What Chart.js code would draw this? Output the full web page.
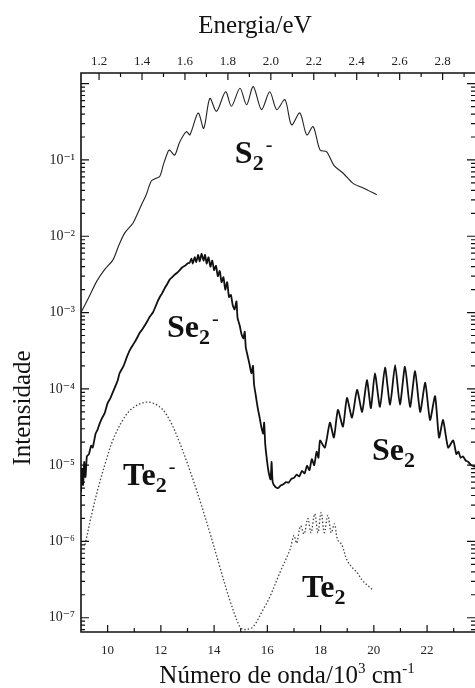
<!DOCTYPE html>
<html><head><meta charset="utf-8">
<script src="https://cdn.jsdelivr.net/npm/chart.js@4/dist/chart.umd.min.js"></script>
<style>html,body{margin:0;padding:0;background:#fff}#wrap{width:475px;height:688px}</style>
</head><body><div id="wrap"><canvas id="c" width="475" height="688"></canvas></div>
<script>
// ---- data (x: wavenumber / 10^3 cm-1, y: intensity) ----
const s2Points = [
[9.0,1.0e-3],[9.3,1.6e-3],[9.6,2.6e-3],[9.9,3.7e-3],[10.2,4.9e-3],[10.4,7.3e-3],[10.64,1.1e-2],[10.95,1.48e-2],[11.1,1.9e-2],[11.27,2.57e-2],[11.45,3.5e-2],[11.64,5.3e-2],[11.8,5.7e-2],[11.96,6.1e-2],[12.1,8.8e-2],[12.27,0.129],[12.33,0.135],[12.52,0.116],[12.7,0.17],[12.96,0.235],[13.09,0.213],[13.4,0.413],[13.61,0.26],[13.84,0.643],[14.09,0.434],[14.43,0.785],[14.65,0.505],[14.97,0.87],[15.22,0.53],[15.47,0.915],[15.78,0.457],[16.09,0.785],[16.35,0.457],[16.66,0.617],[16.91,0.288],[17.22,0.413],[17.48,0.213],[17.72,0.274],[17.98,0.135],[18.23,0.128],[18.5,0.085],[18.85,0.067],[19.23,0.049],[19.6,0.043],[20.11,0.035]
];
const se2Points = [
[9.0,4.5e-6],[9.04,9e-6],[9.08,5.5e-6],[9.12,1.1e-5],[9.17,7e-6],[9.22,1.3e-5],[9.3,1.4e-5],[9.38,1.8e-5],[9.44,1.7e-5],[9.55,2.6e-5],[9.62,2.9e-5],[9.7,3.5e-5],[9.8,4.2e-5],[9.89,4.8e-5],[10.0,6.5e-5],[10.1,7.5e-5],[10.19,8.9e-5],[10.3,1.1e-4],[10.38,1.3e-4],[10.45,1.6e-4],[10.6,2.0e-4],[10.72,2.6e-4],[10.83,3.2e-4],[11.0,4.0e-4],[11.1,4.6e-4],[11.2,5.4e-4],[11.3,6.0e-4],[11.4,6.8e-4],[11.5,7.8e-4],[11.58,8.8e-4],[11.7,1.0e-3],[11.8,1.2e-3],[11.9,1.45e-3],[11.96,1.6e-3],[12.05,1.8e-3],[12.15,2.1e-3],[12.25,2.4e-3],[12.33,2.7e-3],[12.42,2.9e-3],[12.5,3.1e-3],[12.6,3.3e-3],[12.71,3.6e-3],[12.8,3.9e-3],[12.9,4.1e-3],[13.0,4.4e-3],[13.08,4.5e-3],[13.15,5.1e-3],[13.2,4.4e-3],[13.27,5.3e-3],[13.33,4.6e-3],[13.4,5.7e-3],[13.46,4.7e-3],[13.53,5.9e-3],[13.6,4.8e-3],[13.66,5.7e-3],[13.72,4.4e-3],[13.79,5.3e-3],[13.86,4.0e-3],[13.93,4.8e-3],[14.0,3.6e-3],[14.07,4.1e-3],[14.14,3.0e-3],[14.21,3.5e-3],[14.28,2.5e-3],[14.35,2.9e-3],[14.42,2.0e-3],[14.49,2.5e-3],[14.56,1.6e-3],[14.63,1.7e-3],[14.7,1.25e-3],[14.77,1.1e-3],[14.84,1.4e-3],[14.88,8.5e-4],[14.96,6.8e-4],[15.03,5.2e-4],[15.1,4.6e-4],[15.15,5.6e-4],[15.19,3.5e-4],[15.26,2.7e-4],[15.33,2.1e-4],[15.4,1.6e-4],[15.46,2.0e-4],[15.5,1.15e-4],[15.57,8e-5],[15.64,5.6e-5],[15.71,4.2e-5],[15.78,3.1e-5],[15.84,2.6e-5],[15.88,3.6e-5],[15.92,1.9e-5],[15.98,1.2e-5],[16.05,8e-6],[16.12,6.5e-6],[16.16,1.1e-5],[16.2,6e-6],[16.3,5.2e-6],[16.4,5.0e-6],[16.5,5.4e-6],[16.6,5.6e-6],[16.7,6.0e-6],[16.8,5.9e-6],[16.9,6.6e-6],[17.0,6.8e-6],[17.1,7.5e-6],[17.2,7.1e-6],[17.3,8.4e-6],[17.4,7.8e-6],[17.49,9.8e-6],[17.58,8.6e-6],[17.67,1.2e-5],[17.76,1.0e-5],[17.85,1.5e-5],[17.92,1.25e-5],[17.98,2.1e-5],[18.16,1.7e-5],[18.35,3.6e-5],[18.5,2.3e-5],[18.65,5.3e-5],[18.84,3.2e-5],[18.99,7.6e-5],[19.18,4.2e-5],[19.37,9.7e-5],[19.56,5.0e-5],[19.74,1.3e-4],[19.89,5.6e-5],[20.04,1.6e-4],[20.23,5.8e-5],[20.42,1.9e-4],[20.61,6.2e-5],[20.8,2.05e-4],[20.98,6.2e-5],[21.17,1.95e-4],[21.36,5.8e-5],[21.55,1.7e-4],[21.74,5.0e-5],[21.93,1.2e-4],[22.11,3.9e-5],[22.3,8e-5],[22.45,2.3e-5],[22.6,3.9e-5],[22.79,1.7e-5],[22.98,2.1e-5],[23.1,1.4e-5],[23.18,1.5e-5],[23.26,1.25e-5],[23.35,1.3e-5],[23.45,1.15e-5],[23.55,1.1e-5],[23.65,1.0e-5],[23.8,9.5e-6]
];
const te2Points = [
[9.15,9e-7],[9.44,2.6e-6],[9.7,5.9e-6],[9.96,1.2e-5],[10.19,2.1e-5],[10.57,3.9e-5],[10.94,5.6e-5],[11.47,6.7e-5],[11.96,5.8e-5],[12.33,3.9e-5],[12.71,1.95e-5],[13.08,8.7e-6],[13.46,3.5e-6],[13.84,1.3e-6],[14.21,4.7e-7],[14.59,1.7e-7],[14.97,7.6e-8],[15.15,7.0e-8],[15.46,7.6e-8],[15.83,1.26e-7],[16.1,1.9e-7],[16.47,3.9e-7],[16.85,7.8e-7],[17.0,1.2e-6],[17.1,9.5e-7],[17.25,1.6e-6],[17.38,1.25e-6],[17.52,2.0e-6],[17.64,1.3e-6],[17.78,2.3e-6],[17.9,1.3e-6],[18.02,2.4e-6],[18.14,1.3e-6],[18.27,2.2e-6],[18.4,1.3e-6],[18.52,1.7e-6],[18.64,1.05e-6],[18.8,9e-7],[18.99,5.7e-7],[19.2,4.5e-7],[19.37,3.9e-7],[19.6,3.0e-7],[19.97,2.3e-7]
];
const bottomTicks = [10,12,14,16,18,20,22];
const topTicks = [1.2,1.4,1.6,1.8,2.0,2.2,2.4,2.6,2.8];
const yDecades = [1e-7,1e-6,1e-5,1e-4,1e-3,1e-2,1e-1];
const xRange = [9, 23.8];
const yRange = [6.5e-8, 1.38];
const KCM_PER_EV = 8.06554;
// species labels: [main, subscript, superscript, x anchor, y anchor]
const speciesLabels = [
  ['S','2','-',14.78,0.0912],
  ['Se','2','-',12.23,4.8e-4],
  ['Se','2','',19.93,1.17e-5],
  ['Te','2','-',10.58,5.5e-6],
  ['Te','2','',17.3,1.87e-7]
];

const SERIF = '"Liberation Serif","DejaVu Serif",serif';
const SUP = {'-':'\u207B','0':'\u2070','1':'\u00B9','2':'\u00B2','3':'\u00B3','4':'\u2074','5':'\u2075','6':'\u2076','7':'\u2077','8':'\u2078','9':'\u2079'};
const toSup = s => s.split('').map(c=>SUP[c]||c).join('');
const pts = arr => arr.map(p=>({x:p[0],y:p[1]}));

const framePlugin = {
  id:'frame',
  afterDatasetsDraw(chart){
    const {ctx, chartArea:a, scales} = chart;
    const x = scales.x, x2 = scales.x2, y = scales.y;
    ctx.save();
    ctx.strokeStyle = '#111'; ctx.lineWidth = 1.6;
    ctx.beginPath();
    ctx.moveTo(a.right, a.top); ctx.lineTo(a.left, a.top); ctx.lineTo(a.left, a.bottom); ctx.lineTo(a.right, a.bottom);
    ctx.stroke();
    ctx.lineWidth = 1.2;
    ctx.beginPath();
    for (let v=Math.ceil(xRange[0]); v<=xRange[1]; v++){
      const p = x.getPixelForValue(v); if (p<=a.left+1) continue;
      const L = v%2===0?7:4; ctx.moveTo(p,a.bottom); ctx.lineTo(p,a.bottom-L);
    }
    for (let k=11; k<=30; k++){
      const v=k/10; const p=x2.getPixelForValue(v);
      if(p<a.left+1||p>a.right-1) continue;
      const L = k%2===0?7:4; ctx.moveTo(p,a.top); ctx.lineTo(p,a.top+L);
    }
    for (let e=-8; e<=0; e++) for (let m=1;m<=9;m++){
      const v=m*Math.pow(10,e); if(v<yRange[0]||v>yRange[1]) continue;
      const p=y.getPixelForValue(v); const L = m===1?8:4;
      ctx.moveTo(a.left,p); ctx.lineTo(a.left+L,p);
      ctx.moveTo(a.right,p); ctx.lineTo(a.right-L,p);
    }
    ctx.stroke();
    ctx.restore();
  }
};

const textPlugin = {
  id:'texts',
  afterDraw(chart){
    const {ctx, scales} = chart;
    ctx.save();
    ctx.fillStyle = '#111';
    ctx.textBaseline = 'alphabetic';
    speciesLabels.forEach(([main, sub, sup, dx, dy])=>{
      let px = scales.x.getPixelForValue(dx);
      const py = scales.y.getPixelForValue(dy);
      ctx.textAlign='left';
      ctx.font = 'bold 32px '+SERIF;
      ctx.fillText(main, px, py); px += ctx.measureText(main).width;
      ctx.font = 'bold 22px '+SERIF;
      ctx.fillText(sub, px, py+7);
      const sw = ctx.measureText(sub).width;
      if (sup){ ctx.font = '20px '+SERIF; ctx.fillText('-', px+sw+2, py-12); }
    });
    ctx.font = '25px '+SERIF; ctx.textAlign='center';
    ctx.fillText('Energia/eV', 255, 33);
    ctx.save(); ctx.translate(30, 408); ctx.rotate(-Math.PI/2);
    ctx.font = '25px '+SERIF; ctx.textAlign='center';
    ctx.fillText('Intensidade', 0, 0);
    ctx.restore();
    const parts = [['Número de onda/10',25,0],['3',15,-10],[' cm',25,0],['-1',15,-10]];
    let total = 0;
    parts.forEach(p=>{ctx.font=p[1]+'px '+SERIF; total += ctx.measureText(p[0]).width;});
    let sx = 287 - total/2; ctx.textAlign='left';
    parts.forEach(p=>{ctx.font=p[1]+'px '+SERIF; ctx.fillText(p[0], sx, 683+p[2]); sx += ctx.measureText(p[0]).width;});
    ctx.restore();
  }
};

new Chart(document.getElementById('c'), {
  type:'line',
  data:{datasets:[
    {label:'S2-', data:pts(s2Points), borderColor:'#222', borderWidth:1.1, pointRadius:0, tension:0.3, fill:false},
    {label:'Se2- / Se2', data:pts(se2Points), borderColor:'#111', borderWidth:1.8, pointRadius:0, tension:0.2, fill:false},
    {label:'Te2- / Te2', data:pts(te2Points), borderColor:'#444', borderWidth:1.3, borderDash:[1.5,2], pointRadius:0, tension:0.35, fill:false}
  ]},
  options:{
    responsive:false, animation:false, devicePixelRatio:1,
    layout:{padding:0},
    plugins:{legend:{display:false}, tooltip:{enabled:false}},
    scales:{
      x:{type:'linear', position:'bottom', min:xRange[0], max:xRange[1],
        grid:{display:false, drawTicks:false}, border:{display:false},
        ticks:{font:{family:SERIF,size:13}, color:'#222', padding:11, maxRotation:0, autoSkip:false, callback:v=>String(v)},
        afterBuildTicks(s){s.ticks=bottomTicks.map(v=>({value:v}));},
        afterFit(s){s.height=56;}},
      x2:{type:'linear', position:'top', min:xRange[0]/KCM_PER_EV, max:xRange[1]/KCM_PER_EV,
        grid:{display:false, drawTicks:false}, border:{display:false},
        ticks:{font:{family:SERIF,size:13}, color:'#222', padding:4, maxRotation:0, autoSkip:false, callback:v=>Number(v).toFixed(1)},
        afterBuildTicks(s){s.ticks=topTicks.map(v=>({value:v}));},
        afterFit(s){s.height=73;}},
      y:{type:'logarithmic', position:'left', min:yRange[0], max:yRange[1],
        grid:{display:false, drawTicks:false}, border:{display:false},
        ticks:{font:{family:SERIF,size:14}, color:'#222', padding:6, autoSkip:false,
          callback:v=>'10'+toSup(String(Math.round(Math.log10(v))))},
        afterBuildTicks(s){s.ticks=yDecades.map(v=>({value:v}));},
        afterFit(s){s.width=81;}}
    }
  },
  plugins:[framePlugin, textPlugin]
});
</script>
</body></html>
